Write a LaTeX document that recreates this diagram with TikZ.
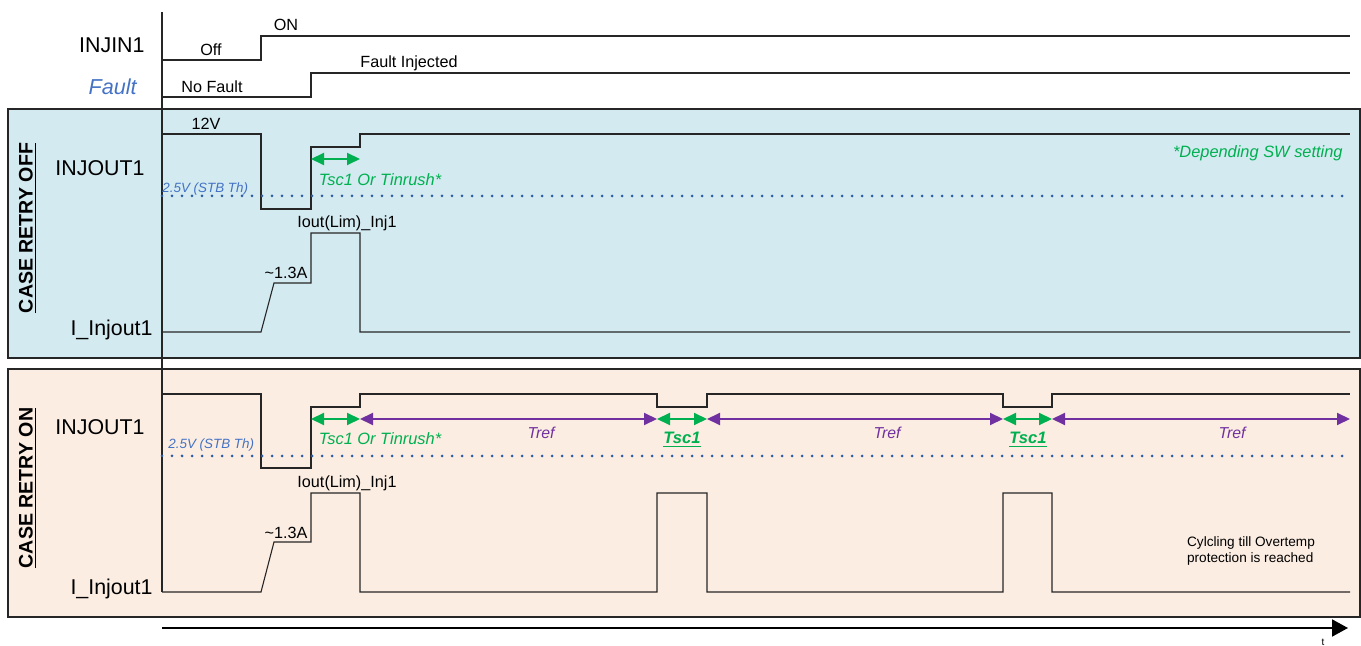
\documentclass[tikz,border=0pt]{standalone}
\usepackage{fontspec}
\setmainfont{Liberation Sans}
\usetikzlibrary{arrows.meta}
\definecolor{offfill}{HTML}{D2EAF0}
\definecolor{onfill}{HTML}{FCEDE2}
\definecolor{tscgreen}{HTML}{00B050}
\definecolor{trefpurple}{HTML}{7030A0}
\definecolor{thblue}{HTML}{4472C4}
\definecolor{dotblue}{HTML}{2E5DA8}
\begin{document}
\begin{tikzpicture}[x=0.5pt,y=-0.5pt,
        panel/.style={
            draw = black!85, line width = 1pt
        },
        signal/.style={
            draw = black!85, line width = 0.55pt
        },
        threshold/.style={
            draw = dotblue, line width = 1.5pt, line cap = round, dash pattern = on 0pt off 5pt
        },
        signame/.style={
            font = \fontsize{10.7}{12}\selectfont, anchor = east, inner sep = 0pt
        },
        casename/.style={
            font = \fontsize{9.8}{12}\selectfont\bfseries, rotate = 90, inner sep = 0pt
        },
        level/.style={
            font = \fontsize{8.1}{10}\selectfont, inner sep = 0pt
        },
        thlabel/.style={
            font = \fontsize{6.7}{8}\selectfont\itshape, color = thblue, anchor = west, inner sep = 0pt
        },
        tsclabel/.style={
            font = \fontsize{8.2}{10}\selectfont\itshape, color = tscgreen, inner sep = 0pt
        },
        treflabel/.style={
            font = \fontsize{7.9}{10}\selectfont\itshape, color = trefpurple, inner sep = 0pt
        },
        tscspan/.style={
            draw = tscgreen, line width = 1pt, {Triangle[length=6.5pt,width=6pt]}-{Triangle[length=6.5pt,width=6pt]}
        },
        trefspan/.style={
            draw = trefpurple, line width = 1pt, {Triangle[length=6.5pt,width=6pt]}-{Triangle[length=6.5pt,width=6pt]}
        },
    ]
        \useasboundingbox (0,0) rectangle (1361,646);

        % panels
        \path[panel, fill = offfill] (8,109) rectangle (1360,358);
        \path[panel, fill = onfill] (8,369) rectangle (1360,617);

        % axes
        \draw[signal] (162,12) -- (162,592);
        \coordinate (tStart) at (162,628);
        \coordinate (tEnd) at (1348,628);
        \draw[line width = 1pt, -{Triangle[length=8pt,width=8.5pt]}] (tStart) -- (tEnd);
        \node (tLabel) [font = \fontsize{5}{6}\selectfont, inner sep = 0pt] at (1323,642) {t};

        % inputs
        \node (injin) [signame] at (145,45) {INJIN1};
        \node (fault) [signame, font = \fontsize{10.8}{12}\selectfont\itshape, color = thblue] at (137,87) {Fault};
        \draw[signal] (162,60) -- (261,60) -- (261,36) -- (1350,36);
        \draw[signal] (162,97) -- (311,97) -- (311,73) -- (1350,73);
        \node (offLevel) [level] at (211,50) {Off};
        \node (onLevel) [level] at (286,25) {ON};
        \node (noFault) [level] at (212,87) {No Fault};
        \node (faultInj) [level] at (409,63) {Fault Injected};

        % case retry off
        \node (caseOff) [casename] at (28,228) {\underline{CASE RETRY OFF}};
        \node (offOut) [signame] at (145,168) {INJOUT1};
        \node (offCur) [signame] at (153,330) {I\_Injout1};
        \draw[signal] (162,134) -- (261,134) -- (261,209) -- (311,209) -- (311,147) -- (360,147) -- (360,134) -- (1350,134);
        \draw[signal] (162,332) -- (261,332) -- (274,283) -- (311,283) -- (311,233) -- (360,233) -- (360,332) -- (1350,332);
        \draw[threshold] (162,196) -- (1350,196);
        \node (offTh) [thlabel] at (162,189) {2.5V (STB Th)};
        \node (off12V) [level] at (206,124) {12V};
        \coordinate (offA) at (311,159);
        \coordinate (offB) at (360,159);
        \draw[tscspan] (offA) -- (offB);
        \node (offTsc) [tsclabel] at (380,180) {Tsc1 Or Tinrush*};
        \node (swNote) [tsclabel, anchor = east] at (1343,153) {*Depending SW setting};
        \node (offLim) [level] at (347,223) {Iout(Lim)\_Inj1};
        \node (offRamp) [level] at (286,273) {\textasciitilde1.3A};

        % case retry on
        \node (caseOn) [casename] at (28,488) {\underline{CASE RETRY ON}};
        \node (onOut) [signame] at (145,427) {INJOUT1};
        \node (onCur) [signame] at (153,589) {I\_Injout1};
        \draw[signal] (162,394) -- (261,394) -- (261,468) -- (311,468) -- (311,407) -- (360,407) -- (360,394)
            -- (657,394) -- (657,407) -- (707,407) -- (707,394)
            -- (1003,394) -- (1003,407) -- (1052,407) -- (1052,394) -- (1350,394);
        \draw[signal] (162,592) -- (261,592) -- (274,542) -- (311,542) -- (311,493) -- (360,493) -- (360,592)
            -- (657,592) -- (657,493) -- (707,493) -- (707,592)
            -- (1003,592) -- (1003,493) -- (1052,493) -- (1052,592) -- (1350,592);
        \draw[threshold] (162,456) -- (1350,456);
        \node (onTh) [thlabel] at (168,445) {2.5V (STB Th)};
        \coordinate (onA) at (311,419);
        \coordinate (onB) at (360,419);
        \coordinate (onC) at (657,419);
        \coordinate (onD) at (707,419);
        \coordinate (onE) at (1003,419);
        \coordinate (onF) at (1052,419);
        \coordinate (onG) at (1350,419);
        \draw[tscspan] (onA) -- (onB);
        \draw[trefspan] (onB) -- (onC);
        \draw[tscspan] (onC) -- (onD);
        \draw[trefspan] (onD) -- (onE);
        \draw[tscspan] (onE) -- (onF);
        \draw[trefspan] (onF) -- (onG);
        \node (onTsc) [tsclabel] at (380,439) {Tsc1 Or Tinrush*};
        \node (tref1) [treflabel] at (541,433) {Tref};
        \node (tref2) [treflabel] at (887,433) {Tref};
        \node (tref3) [treflabel] at (1232,433) {Tref};
        \node (tsc1) [tsclabel, font = \fontsize{8.3}{10}\selectfont\bfseries\itshape] at (682,440) {\underline{Tsc1}};
        \node (tsc2) [tsclabel, font = \fontsize{8.3}{10}\selectfont\bfseries\itshape] at (1028,440) {\underline{Tsc1}};
        \node (onLim) [level] at (347,483) {Iout(Lim)\_Inj1};
        \node (onRamp) [level] at (286,533) {\textasciitilde1.3A};
        \node (cycling) [level, font = \fontsize{6.8}{8}\selectfont, align = left] at (1251,551) {Cylcling till Overtemp\\protection is reached};

    \end{tikzpicture}
\end{document}
